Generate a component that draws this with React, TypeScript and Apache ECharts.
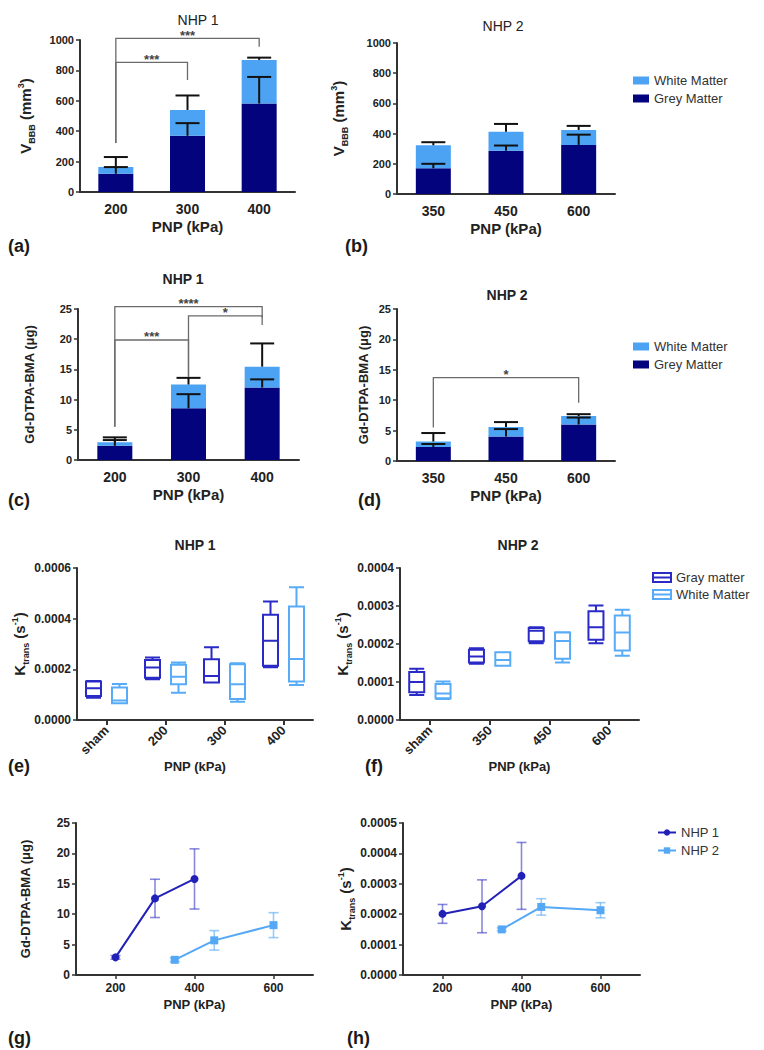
import React, { useEffect, useRef } from 'react';
import * as echarts from 'echarts';

const FONT = "'Liberation Sans', Arial, Helvetica, sans-serif";
const NAVY = '#03037e';
const LIGHT = '#4da3f3';
const DARKBOX = '#2a2ac6';
const LIGHTBOX = '#58abf7';
const LINE1 = '#2121b8';
const LINE2 = '#55a8f5';
const ERR1 = 'rgba(40,40,190,0.55)';
const ERR2 = 'rgba(85,168,245,0.6)';
const AXIS = '#333333';
const TEXT = '#222222';

// ---------- (a) NHP 1, V_BBB ----------
const catsA = ['200', '300', '400'];
const greyMeanA = [120, 370, 582];
const greySdA = [44, 83, 175];
const whiteMeanA = [44, 170, 287];
const whiteSdA = [66, 95, 15];
const bracketsA = [
  { from: 0, to: 2, top: 1011, left: 322, right: 956, label: '***' },
  { from: 0, to: 1, top: 853, left: 322, right: 737, label: '***' },
];

// ---------- (b) NHP 2, V_BBB ----------
const catsB = ['350', '450', '600'];
const greyMeanB = [171, 286, 325];
const greySdB = [29, 35, 68];
const whiteMeanB = [152, 127, 99];
const whiteSdB = [20, 51, 27];
const bracketsB: any[] = [];

// ---------- (c) NHP 1, Gd-DTPA-BMA ----------
const catsC = ['200', '300', '400'];
const greyMeanC = [2.35, 8.55, 12.0];
const greySdC = [0.95, 2.35, 1.35];
const whiteMeanC = [0.6, 3.95, 3.45];
const whiteSdC = [0.8, 1.1, 3.85];
const bracketsC = [
  { from: 0, to: 2, top: 25.4, left: 5.5, right: 23.6, label: '****' },
  { from: 1, to: 2, top: 23.85, left: 13.8, right: 22.35, label: '*' },
  { from: 0, to: 1, top: 19.87, left: 5.5, right: 13.8, label: '***' },
];

// ---------- (d) NHP 2, Gd-DTPA-BMA ----------
const catsD = ['350', '450', '600'];
const greyMeanD = [2.3, 4.05, 6.0];
const greySdD = [0.5, 1.2, 1.15];
const whiteMeanD = [0.9, 1.55, 1.4];
const whiteSdD = [1.4, 0.8, 0.3];
const bracketsD = [{ from: 0, to: 2, top: 13.7, left: 5.5, right: 9.6, label: '*' }];

// ---------- (e) NHP 1, Ktrans boxplots [min, Q1, median, Q3, max] ----------
const catsE = ['sham', '200', '300', '400'];
const grayBoxE = [
  [0.000088, 0.000095, 0.000125, 0.000152, 0.000154],
  [0.000161, 0.000167, 0.000207, 0.000237, 0.000247],
  [0.000148, 0.000148, 0.000174, 0.00024, 0.000287],
  [0.000208, 0.000214, 0.000313, 0.000415, 0.000468],
];
const whiteBoxE = [
  [0.000066, 0.000066, 0.0000765, 0.000128, 0.000142],
  [0.000108, 0.000141, 0.000171, 0.000218, 0.000227],
  [0.0000725, 0.000083, 0.000141, 0.00022, 0.000224],
  [0.000138, 0.000152, 0.000241, 0.000448, 0.000524],
];

// ---------- (f) NHP 2, Ktrans boxplots ----------
const catsF = ['sham', '350', '450', '600'];
const grayBoxF = [
  [0.000066, 0.000073, 0.0001, 0.000126, 0.000135],
  [0.000148, 0.000151, 0.000167, 0.000185, 0.000189],
  [0.000202, 0.000207, 0.000235, 0.000242, 0.000244],
  [0.000202, 0.000211, 0.000244, 0.000286, 0.000301],
];
const whiteBoxF = [
  [0.0000554, 0.0000571, 0.00007, 0.000095, 0.000101],
  [0.000143, 0.000143, 0.000158, 0.000178, 0.000178],
  [0.000151, 0.000161, 0.000208, 0.00023, 0.000231],
  [0.000169, 0.000183, 0.00023, 0.000275, 0.00029],
];

// ---------- (g) / (h) line charts ----------
const pnp1 = [200, 300, 400];
const pnp2 = [350, 450, 600];
const pnpTicks = [200, 400, 600];
const gdMean1 = [2.9, 12.6, 15.8];
const gdSd1 = [0.3, 3.15, 4.95];
const gdMean2 = [2.5, 5.7, 8.2];
const gdSd2 = [0.3, 1.6, 2.05];
const kMean1 = [0.000201, 0.000226, 0.000326];
const kSd1 = [0.000031, 0.000087, 0.00011];
const kMean2 = [0.00015, 0.000224, 0.000213];
const kSd2 = [0.000005, 0.000027, 0.000025];

const BOXICON = 'path://M1,1 L17,1 L17,9 L1,9 Z M1,5 L17,5';

function buildOption() {
  const grid: any[] = [];
  const xAxis: any[] = [];
  const yAxis: any[] = [];
  const series: any[] = [];
  const legend: any[] = [];
  const graphics: any[] = [];

  const axisLine = { show: true, lineStyle: { color: AXIS, width: 2 } };
  const bold = (size: number) => ({ fontFamily: FONT, fontSize: size, fontWeight: 'bold', color: TEXT });
  const richName = {
    v: { fontFamily: FONT, fontSize: 15, fontWeight: 'bold', color: TEXT, lineHeight: 22 },
    s: { fontFamily: FONT, fontSize: 9, fontWeight: 'bold', color: TEXT, lineHeight: 22, verticalAlign: 'bottom' },
    p: { fontFamily: FONT, fontSize: 9, fontWeight: 'bold', color: TEXT, lineHeight: 22, verticalAlign: 'top', padding: [2, 0, 0, 0] },
  };
  const vName = '{v|V}{s|BBB}{v| (mm}{p|3}{v|)}';
  const kName = '{v|K}{s|trans}{v| (s}{p|-1}{v|)}';
  const gdName = 'Gd-DTPA-BMA (\u03bcg)';

  const addGrid = (r: number[]) => {
    grid.push({ left: r[0], top: r[1], width: r[2], height: r[3], containLabel: false, outerBoundsMode: 'none' });
    return grid.length - 1;
  };

  const errRender = (capHalf: number, color: string, width: number, both: boolean) => (params: any, api: any) => {
    const x = api.value(0);
    const a = api.coord([x, api.value(1)]);
    const b = api.coord([x, api.value(2)]);
    const style = { stroke: color, lineWidth: width };
    const children: any[] = [
      { type: 'line', shape: { x1: a[0], y1: a[1], x2: b[0], y2: b[1] }, style },
      { type: 'line', shape: { x1: b[0] - capHalf, y1: b[1], x2: b[0] + capHalf, y2: b[1] }, style },
    ];
    if (both) children.push({ type: 'line', shape: { x1: a[0] - capHalf, y1: a[1], x2: a[0] + capHalf, y2: a[1] }, style });
    return { type: 'group', children };
  };

  const bracketRender = (brackets: any[]) => (params: any, api: any) => {
    const br = brackets[params.dataIndex];
    const p1 = api.coord([api.value(0), api.value(3)]);
    const p2 = api.coord([api.value(0), api.value(2)]);
    const p3 = api.coord([api.value(1), api.value(2)]);
    const p4 = api.coord([api.value(1), api.value(4)]);
    return {
      type: 'group',
      children: [
        { type: 'polyline', shape: { points: [p1, p2, p3, p4] }, style: { stroke: '#6b6b6b', lineWidth: 1.3, fill: null } },
        {
          type: 'text', x: (p2[0] + p3[0]) / 2, y: p2[1] - 3,
          style: { text: br.label, fontFamily: FONT, fontSize: 13, fontWeight: 'bold', fill: '#444', align: 'center', verticalAlign: 'middle' },
        },
      ],
    };
  };

  const barPanel = (rect: number[], cats: string[], gM: number[], gS: number[], wM: number[], wS: number[],
    yMax: number, yInt: number, yName: string, yGap: number, rich: boolean, brackets: any[]) => {
    const i = addGrid(rect);
    xAxis.push({
      gridIndex: i, type: 'category', data: cats, axisLine, axisTick: { show: false },
      axisLabel: { ...bold(14), margin: 10 }, splitLine: { show: false },
      name: 'PNP (kPa)', nameLocation: 'middle', nameGap: 27, nameTextStyle: bold(15),
    });
    yAxis.push({
      gridIndex: i, type: 'value', min: 0, max: yMax, interval: yInt, axisLine,
      axisTick: { show: true, length: 4, lineStyle: { color: AXIS, width: 1.5 } },
      splitLine: { show: false }, axisLabel: { ...bold(11), margin: 6, formatter: (v: number) => String(v) },
      name: yName, nameLocation: 'middle', nameRotate: 90, nameGap: yGap,
      nameTextStyle: rich ? { ...bold(15), rich: richName } : bold(13),
    });
    const st = 'stack' + i;
    series.push({ type: 'bar', name: 'Grey Matter', xAxisIndex: i, yAxisIndex: i, stack: st, barWidth: 35, data: gM, itemStyle: { color: NAVY }, silent: true });
    series.push({ type: 'bar', name: 'White Matter', xAxisIndex: i, yAxisIndex: i, stack: st, barWidth: 35, data: wM, itemStyle: { color: LIGHT }, silent: true });
    series.push({
      type: 'custom', coordinateSystem: 'cartesian2d', xAxisIndex: i, yAxisIndex: i, z: 3, silent: true,
      encode: { x: 0, y: [1, 2] }, renderItem: errRender(12, '#111', 2, false),
      data: gM.map((m, k) => [k, m, m + gS[k]]),
    });
    series.push({
      type: 'custom', coordinateSystem: 'cartesian2d', xAxisIndex: i, yAxisIndex: i, z: 3, silent: true,
      encode: { x: 0, y: [1, 2] }, renderItem: errRender(12, '#111', 2, false),
      data: wM.map((m, k) => [k, gM[k] + m, gM[k] + m + wS[k]]),
    });
    if (brackets.length) {
      series.push({
        type: 'custom', coordinateSystem: 'cartesian2d', xAxisIndex: i, yAxisIndex: i, z: 4, silent: true, clip: false,
        encode: { x: 0, y: 2 }, renderItem: bracketRender(brackets),
        data: brackets.map((b) => [b.from, b.to, b.top, b.left, b.right]),
      });
    }
  };

  const boxPanel = (rect: number[], cats: string[], gray: number[][], white: number[][], yMax: number, yInt: number, yGap: number) => {
    const i = addGrid(rect);
    xAxis.push({
      gridIndex: i, type: 'category', data: cats, boundaryGap: true, axisLine,
      axisTick: { show: true, alignWithLabel: true, length: 5, lineStyle: { color: AXIS, width: 2 } },
      axisLabel: { ...bold(13), rotate: 45, margin: 8 }, splitLine: { show: false },
      name: 'PNP (kPa)', nameLocation: 'middle', nameGap: 36, nameTextStyle: bold(13),
    });
    yAxis.push({
      gridIndex: i, type: 'value', min: 0, max: yMax, interval: yInt, axisLine,
      axisTick: { show: true, length: 4, lineStyle: { color: AXIS, width: 1.5 } },
      splitLine: { show: false }, axisLabel: { ...bold(12), margin: 6, formatter: (v: number) => v.toFixed(4) },
      name: kName, nameLocation: 'middle', nameRotate: 90, nameGap: yGap, nameTextStyle: { ...bold(15), rich: richName },
    });
    series.push({
      type: 'boxplot', name: 'Gray matter', xAxisIndex: i, yAxisIndex: i, data: gray, boxWidth: [15, 15], silent: true,
      itemStyle: { color: 'rgba(0,0,0,0)', borderColor: DARKBOX, borderWidth: 2 },
    });
    series.push({
      type: 'boxplot', name: 'White Matter', xAxisIndex: i, yAxisIndex: i, data: white, boxWidth: [15, 15], silent: true,
      itemStyle: { color: 'rgba(0,0,0,0)', borderColor: LIGHTBOX, borderWidth: 2 },
    });
  };

  const linePanel = (rect: number[], m1: number[], s1: number[], m2: number[], s2: number[], yMax: number, yInt: number,
    yName: string, yGap: number, rich: boolean, decimals: number) => {
    const i = addGrid(rect);
    xAxis.push({
      gridIndex: i, type: 'value', min: 100, max: 700, axisLine,
      axisTick: { show: true, length: 4, customValues: pnpTicks, lineStyle: { color: AXIS, width: 1.5 } },
      axisLabel: { ...bold(12), margin: 7, customValues: pnpTicks }, splitLine: { show: false },
      name: 'PNP (kPa)', nameLocation: 'middle', nameGap: 23, nameTextStyle: bold(13),
    });
    yAxis.push({
      gridIndex: i, type: 'value', min: 0, max: yMax, interval: yInt, axisLine,
      axisTick: { show: true, length: 4, lineStyle: { color: AXIS, width: 1.5 } },
      splitLine: { show: false }, axisLabel: { ...bold(12), margin: 6, formatter: (v: number) => v.toFixed(decimals) },
      name: yName, nameLocation: 'middle', nameRotate: 90, nameGap: yGap,
      nameTextStyle: rich ? { ...bold(15), rich: richName } : bold(13),
    });
    series.push({
      type: 'custom', coordinateSystem: 'cartesian2d', xAxisIndex: i, yAxisIndex: i, silent: true,
      encode: { x: 0, y: [1, 2] }, renderItem: errRender(5, ERR1, 1.6, true),
      data: pnp1.map((x, k) => [x, m1[k] - s1[k], m1[k] + s1[k]]),
    });
    series.push({
      type: 'custom', coordinateSystem: 'cartesian2d', xAxisIndex: i, yAxisIndex: i, silent: true,
      encode: { x: 0, y: [1, 2] }, renderItem: errRender(5, ERR2, 1.6, true),
      data: pnp2.map((x, k) => [x, m2[k] - s2[k], m2[k] + s2[k]]),
    });
    series.push({
      type: 'line', name: 'NHP 1', xAxisIndex: i, yAxisIndex: i, data: pnp1.map((x, k) => [x, m1[k]]),
      symbol: 'circle', symbolSize: 8, lineStyle: { color: LINE1, width: 2 }, itemStyle: { color: LINE1 }, silent: true, z: 5,
    });
    series.push({
      type: 'line', name: 'NHP 2', xAxisIndex: i, yAxisIndex: i, data: pnp2.map((x, k) => [x, m2[k]]),
      symbol: 'rect', symbolSize: 8, lineStyle: { color: LINE2, width: 2 }, itemStyle: { color: LINE2 }, silent: true, z: 5,
    });
  };

  barPanel([80, 40, 215, 152], catsA, greyMeanA, greySdA, whiteMeanA, whiteSdA, 1000, 200, vName, 44, true, bracketsA);
  barPanel([397, 43, 218, 151], catsB, greyMeanB, greySdB, whiteMeanB, whiteSdB, 1000, 200, vName, 48, true, bracketsB);
  barPanel([78, 309, 221, 151], catsC, greyMeanC, greySdC, whiteMeanC, whiteSdC, 25, 5, gdName, 42, false, bracketsC);
  barPanel([397, 309, 218, 152], catsD, greyMeanD, greySdD, whiteMeanD, whiteSdD, 25, 5, gdName, 27, false, bracketsD);
  boxPanel([77, 568, 236, 152], catsE, grayBoxE, whiteBoxE, 0.0006, 0.0002, 42);
  boxPanel([400, 568, 239, 152], catsF, grayBoxF, whiteBoxF, 0.0004, 0.0001, 47);
  linePanel([76, 823, 237, 152], gdMean1, gdSd1, gdMean2, gdSd2, 25, 5, gdName, 44, false, 0);
  linePanel([403, 823, 237, 152], kMean1, kSd1, kMean2, kSd2, 0.0005, 0.0001, kName, 46, true, 4);

  const legText = { fontFamily: FONT, fontSize: 13, color: '#333' };
  legend.push({
    data: ['White Matter', 'Grey Matter'], orient: 'vertical', left: 633, top: 74, padding: 0,
    itemWidth: 16, itemHeight: 8, itemGap: 5, icon: 'rect', textStyle: legText, selectedMode: false,
  });
  legend.push({
    data: ['White Matter', 'Grey Matter'], orient: 'vertical', left: 633, top: 340, padding: 0,
    itemWidth: 16, itemHeight: 8, itemGap: 5, icon: 'rect', textStyle: legText, selectedMode: false,
  });
  legend.push({
    data: [
      { name: 'Gray matter', icon: BOXICON, itemStyle: { color: 'rgba(0,0,0,0)', borderColor: DARKBOX, borderWidth: 2 } },
      { name: 'White Matter', icon: BOXICON, itemStyle: { color: 'rgba(0,0,0,0)', borderColor: LIGHTBOX, borderWidth: 2 } },
    ],
    orient: 'vertical', left: 652, top: 571, padding: 0, itemWidth: 18, itemHeight: 10, itemGap: 4,
    textStyle: legText, selectedMode: false,
  });
  legend.push({
    data: ['NHP 1', 'NHP 2'], orient: 'vertical', left: 657, top: 826, padding: 0,
    itemWidth: 18, itemHeight: 8, itemGap: 5, textStyle: legText, selectedMode: false,
  });

  const titleText = (text: string, x: number, y: number, weight: string) => ({
    type: 'text', x, y, z: 10, silent: true,
    style: { text, fontFamily: FONT, fontSize: 14, fontWeight: weight, fill: TEXT, align: 'center', verticalAlign: 'middle' },
  });
  graphics.push(titleText('NHP 1', 198, 20, 'normal'));
  graphics.push(titleText('NHP 2', 503, 26, 'normal'));
  graphics.push(titleText('NHP 1', 183, 279, 'bold'));
  graphics.push(titleText('NHP 2', 507, 295, 'bold'));
  graphics.push(titleText('NHP 1', 195, 545, 'bold'));
  graphics.push(titleText('NHP 2', 518, 545, 'bold'));

  const panelLabel = (text: string, x: number, y: number) => ({
    type: 'text', x, y, z: 10, silent: true,
    style: { text, fontFamily: FONT, fontSize: 18, fontWeight: 'bold', fill: '#1a1a1a', align: 'left', verticalAlign: 'middle' },
  });
  graphics.push(panelLabel('(a)', 8, 246));
  graphics.push(panelLabel('(b)', 345, 246));
  graphics.push(panelLabel('(c)', 8, 500));
  graphics.push(panelLabel('(d)', 358, 500));
  graphics.push(panelLabel('(e)', 8, 766));
  graphics.push(panelLabel('(f)', 365, 766));
  graphics.push(panelLabel('(g)', 8, 1038));
  graphics.push(panelLabel('(h)', 347, 1038));

  return {
    animation: false,
    backgroundColor: '#ffffff',
    textStyle: { fontFamily: FONT },
    grid, xAxis, yAxis, series, legend,
    graphic: graphics,
  };
}

export default function App() {
  const ref = useRef<HTMLDivElement>(null);
  useEffect(() => {
    document.body.style.margin = '0';
    const chart = echarts.init(ref.current as HTMLDivElement, null, { renderer: 'svg', width: 764, height: 1050 });
    chart.setOption(buildOption() as any);
    return () => chart.dispose();
  }, []);
  return <div ref={ref} style={{ width: 764, height: 1050 }} />;
}
